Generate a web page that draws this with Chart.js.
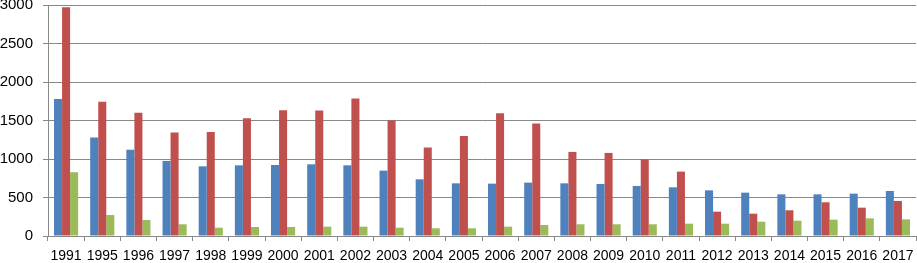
<!DOCTYPE html>
<html>
<head>
<meta charset="utf-8">
<script src="https://cdn.jsdelivr.net/npm/chart.js@4.4.0/dist/chart.umd.min.js"></script>
<style>
  body { margin: 0; background: #fff; }
  canvas { display: block; }
</style>
</head>
<body>
<canvas id="myChart" width="917" height="263"></canvas>
<script>
const years = ["1991", "1995", "1996", "1997", "1998", "1999", "2000", "2001", "2002", "2003", "2004", "2005",
               "2006", "2007", "2008", "2009", "2010", "2011", "2012", "2013", "2014", "2015", "2016", "2017"];
const blueValues = [1780, 1280, 1120, 975, 905, 918, 922, 931, 918, 849, 736, 684,
                    680, 693, 684, 676, 650, 632, 593, 563, 541, 541, 550, 585];
const redValues = [2970, 1745, 1602, 1343, 1352, 1529, 1633, 1629, 1785, 1499, 1148, 1300,
                   1595, 1460, 1092, 1079, 996, 836, 316, 290, 334, 438, 368, 455];
const greenValues = [828, 273, 208, 152, 108, 117, 117, 121, 121, 108, 100, 100,
                     121, 143, 152, 152, 152, 160, 160, 186, 199, 212, 229, 216];
const yTicks = [0, 500, 1000, 1500, 2000, 2500, 3000];

const gridColor = "#898989";
const fontFamily = "'Liberation Sans', Arial, sans-serif";

const ctx = document.getElementById("myChart").getContext("2d");

const myChart = new Chart(ctx, {
  type: "bar",
  data: {
    labels: years,
    datasets: [
      { data: blueValues, backgroundColor: "#4f81bd" },
      { data: redValues, backgroundColor: "#c0504d" },
      { data: greenValues, backgroundColor: "#9bbb59" }
    ]
  },
  options: {
    responsive: false,
    animation: false,
    layout: { padding: { top: 5, right: 1, left: 0, bottom: 0 } },
    datasets: {
      bar: { categoryPercentage: 0.667, barPercentage: 1, borderWidth: 0 }
    },
    plugins: { legend: { display: false }, tooltip: { enabled: false } },
    scales: {
      x: {
        grid: { offset: true, drawOnChartArea: false, color: gridColor, tickLength: 5 },
        border: { color: gridColor },
        ticks: { color: "#000", font: { family: fontFamily, size: 14 }, padding: 7, maxRotation: 0, autoSkip: false },
        afterFit: axis => {
          axis.height = 27;
          axis.paddingLeft = 0;
          axis.paddingRight = 0;
        }
      },
      y: {
        min: 0,
        max: 3000,
        afterBuildTicks: axis => {
          axis.ticks = yTicks.map(v => ({ value: v }));
        },
        grid: { color: gridColor, tickLength: 5 },
        border: { color: gridColor },
        ticks: { color: "#000", font: { family: fontFamily, size: 15 }, padding: 10, callback: v => String(v) },
        afterFit: axis => {
          axis.width = 48;
          axis.paddingTop = 0;
          axis.paddingBottom = 0;
        }
      }
    }
  }
});
</script>
</body>
</html>
